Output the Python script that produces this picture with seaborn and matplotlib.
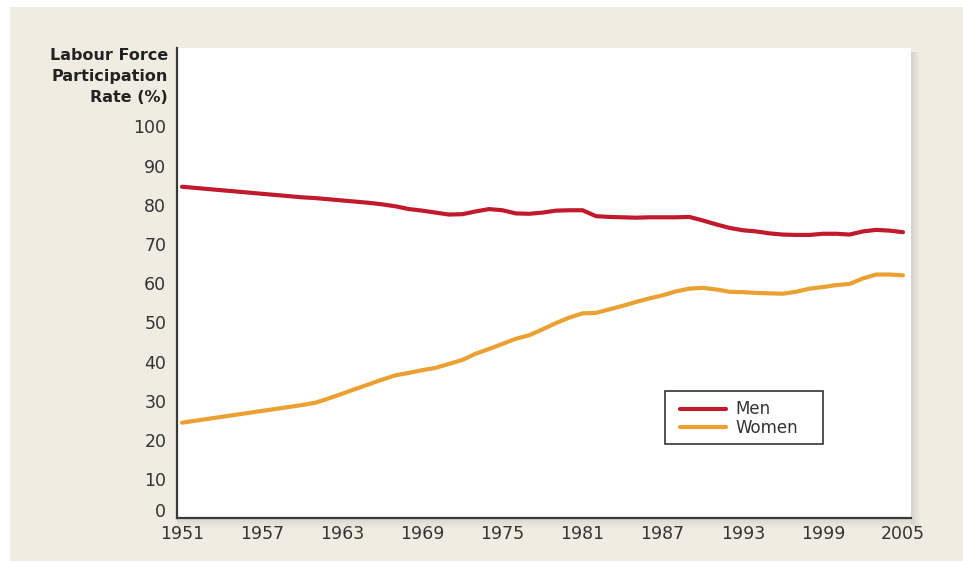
import matplotlib
matplotlib.use("Agg")
import matplotlib.pyplot as plt
import numpy as np
import pandas as pd
import seaborn as sns
from matplotlib.patches import Rectangle
from matplotlib.ticker import MultipleLocator
from matplotlib.transforms import ScaledTranslation

# ---------------- data ----------------
years = list(range(1951, 2006))
men = [84.6, 84.3, 84.0, 83.7, 83.4, 83.1, 82.8, 82.5, 82.2, 81.9,
       81.7, 81.4, 81.1, 80.8, 80.5, 80.1, 79.6, 78.9, 78.5, 78.0,
       77.5, 77.6, 78.3, 78.9, 78.6, 77.8, 77.7, 78.0, 78.5, 78.6,
       78.6, 77.1, 76.9, 76.8, 76.7, 76.8, 76.8, 76.8, 76.9, 76.0,
       75.0, 74.1, 73.5, 73.2, 72.7, 72.4, 72.3, 72.3, 72.6, 72.6,
       72.4, 73.2, 73.6, 73.4, 73.0]
women = [24.4, 24.9, 25.4, 25.9, 26.4, 26.9, 27.4, 27.9, 28.4, 28.9,
         29.5, 30.6, 31.8, 33.0, 34.2, 35.4, 36.5, 37.1, 37.8, 38.4,
         39.4, 40.4, 42.0, 43.2, 44.5, 45.8, 46.7, 48.2, 49.8, 51.2,
         52.3, 52.4, 53.3, 54.2, 55.2, 56.1, 56.9, 57.9, 58.6, 58.8,
         58.4, 57.8, 57.7, 57.5, 57.4, 57.3, 57.8, 58.6, 59.0, 59.5,
         59.8, 61.2, 62.2, 62.2, 62.0]
series_names = ["Men", "Women"]
x_major_ticks = list(range(1951, 2006, 6))
y_ticks = list(range(0, 101, 10))
ylabel_lines = ["Labour Force", "Participation", "Rate (%)"]

RED = "#C01A2C"
ORANGE = "#EBA032"
BEIGE = "#F0ECE2"
DARK = "#3a3a3a"

df = pd.DataFrame({
    "Year": years * 2,
    "Rate": men + women,
    "Series": [series_names[0]] * len(years) + [series_names[1]] * len(years),
})

sns.set_style("white")
plt.rcParams["font.family"] = ["DejaVu Sans"]

W, H = 963, 563
fig = plt.figure(figsize=(W / 100, H / 100), dpi=100)
fig.patch.set_facecolor("white")

def px_rect(x0, y0_top, w, h, **kw):
    # rectangle given in pixel coords from top-left
    return Rectangle((x0 / W, 1 - (y0_top + h) / H), w / W, h / H,
                     transform=fig.transFigure, **kw)

# beige background panel
fig.add_artist(px_rect(10, 7, 953, 554, facecolor=BEIGE, edgecolor="none", zorder=-10))

# axes (white plot area)
ax_l, ax_r, ax_t, ax_b = 176.7, 910.7, 48.0, 518.3
ax = fig.add_axes([ax_l / W, 1 - ax_b / H, (ax_r - ax_l) / W, (ax_b - ax_t) / H])
ax.set_facecolor("white")

# drop shadow right and below the plot area
for i in range(9):
    a = 0.22 * (1 - i / 9)
    fig.add_artist(px_rect(ax_r + i, ax_t + 4, 1, ax_b - ax_t + 6 - 4 + i * 0.6,
                           facecolor="#7a7a7a", edgecolor="none", alpha=a, zorder=-5))
    fig.add_artist(px_rect(ax_l, ax_b + 1 + i, ax_r - ax_l, 1,
                           facecolor="#7a7a7a", edgecolor="none", alpha=a * 0.8, zorder=-5))

sns.lineplot(data=df, x="Year", y="Rate", hue="Series",
             palette={"Men": RED, "Women": ORANGE}, linewidth=3.0,
             ax=ax, legend=True)
for ln in ax.get_lines():
    ln.set_solid_capstyle("round")

ax.set_xlim(1950.6, 2005.58)
ax.set_ylim(0, 120)
ax.set_xlabel("")
ax.set_ylabel("")

for s in ["top", "right"]:
    ax.spines[s].set_visible(False)
for s in ["left", "bottom"]:
    ax.spines[s].set_color(DARK)
    ax.spines[s].set_linewidth(1.6)

ax.set_xticks(x_major_ticks)
ax.set_xticklabels([str(y) for y in x_major_ticks])
ax.xaxis.set_minor_locator(MultipleLocator(1))
ax.tick_params(axis="x", which="both", direction="in", length=6.5, width=1.1,
               color=DARK, pad=4.5, labelsize=12.5, labelcolor="#333333")
ax.set_yticks(y_ticks)
ax.set_yticklabels([str(v) for v in y_ticks])
ax.tick_params(axis="y", which="major", direction="in", length=12, width=1.5,
               color=DARK, pad=7.5, labelsize=12.5, labelcolor="#333333")
ax.tick_params(axis="y", which="minor", left=False)

# the "0" label sits slightly above its tick, stacked over the first year label
zero_lab = ax.yaxis.get_major_ticks()[0].label1
zero_lab.set_transform(zero_lab.get_transform() +
                       ScaledTranslation(0, 6 / 72, fig.dpi_scale_trans))

# y-axis title (three lines, top-left)
for txt, yc in zip(ylabel_lines, [55, 76, 97]):
    fig.text(168 / W, 1 - yc / H, txt, ha="right", va="center",
             fontsize=11.5, fontweight="bold", color="#222222")

# legend
handles, labels = ax.get_legend_handles_labels()
leg = ax.legend(handles, labels, loc="upper left",
                bbox_to_anchor=(672 / W, 1 - 392 / H), bbox_transform=fig.transFigure,
                frameon=False, borderpad=0, handlelength=2.75, handletextpad=0.55,
                labelspacing=0.05, fontsize=12)
for t in leg.get_texts():
    t.set_color("#333333")
for h in leg.legend_handles:
    h.set_linewidth(3.0)
fig.add_artist(px_rect(665, 391, 158, 53, fill=False, edgecolor="#333333",
                       linewidth=1.2, zorder=5))

fig.savefig("out.png", dpi=100, facecolor=fig.get_facecolor())
